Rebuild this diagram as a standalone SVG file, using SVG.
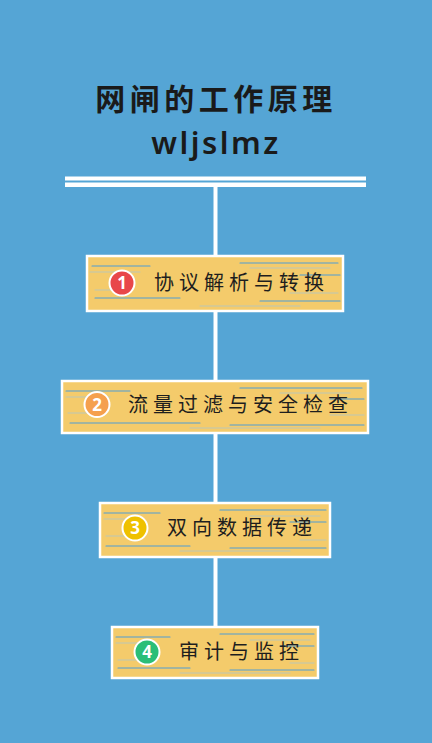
<svg xmlns="http://www.w3.org/2000/svg" width="432" height="743" viewBox="0 0 432 743">
<style>
.box{fill:#F4CB6B;stroke:#FFFFFF;stroke-width:2.5}
.st{stroke:#4E9DD6;stroke-width:1.1;fill:none;stroke-linecap:round}
.st2{stroke:#9CC6E2;stroke-width:0.8;fill:none;stroke-linecap:round;opacity:0.8}
.lbl{font-family:"Noto Sans CJK SC","Noto Sans",sans-serif;font-size:20px;fill:#1E1E1E;letter-spacing:5px}
.num{font-family:"Noto Sans","Liberation Sans",sans-serif;font-size:17px;font-weight:700;fill:#FFFFFF;text-anchor:middle}
.circ{stroke:#FFFFFF;stroke-width:2}
</style>
<rect width="432" height="743" fill="#55A5D5"/>
<g id="title">
<text x="216" y="110" text-anchor="middle" font-family="'Noto Sans CJK SC',sans-serif" font-size="30" font-weight="700" fill="#1A1A1A" letter-spacing="4.5">网闸的工作原理</text>
<text x="216" y="154" text-anchor="middle" font-family="'Noto Sans','DejaVu Sans',sans-serif" font-size="31" font-weight="600" fill="#1A1A1A" letter-spacing="2.5">wljslmz</text>
</g>
<g id="connectors">
<rect x="65" y="176.5" width="301" height="4" fill="#FFFFFF"/>
<rect x="65" y="182.5" width="301" height="4.5" fill="#FFFFFF"/>
<line x1="215.5" y1="187" x2="215.5" y2="627" stroke="#FFFFFF" stroke-width="4"/>
</g>
<g id="node1">
<rect class="box" x="87" y="256" width="256" height="55"/>
<path class="st" d="M92 266 H150 M240 263 H338 M95 298 H180 M260 301 H340 M300 275 H340"/>
<path class="st2" d="M90 272 H140 M95 290 H130 M200 306 H300 M250 268 H330 M290 293 H338"/>
<circle class="circ" cx="122" cy="283" r="12.5" fill="#E8474A"/>
<text class="num" x="122" y="289">1</text>
<text class="lbl" x="154" y="290">协议解析与转换</text>
</g>
<g id="node2">
<rect class="box" x="62" y="381" width="306" height="52"/>
<path class="st" d="M66 391 H130 M240 388 H362 M70 423 H200 M230 425 H364 M330 399 H364"/>
<path class="st2" d="M66 397 H110 M68 413 H100 M190 428 H320 M280 393 H350 M330 415 H364"/>
<circle class="circ" cx="97" cy="404.5" r="12.5" fill="#F5A04D"/>
<text class="num" x="97" y="410.5">2</text>
<text class="lbl" x="128" y="412">流量过滤与安全检查</text>
</g>
<g id="node3">
<rect class="box" x="100" y="503" width="230" height="54"/>
<path class="st" d="M104 513 H160 M220 510 H326 M106 546 H190 M230 548 H326 M290 522 H326"/>
<path class="st2" d="M104 519 H140 M106 536 H128 M180 551 H290 M250 516 H320 M300 540 H326"/>
<circle class="circ" cx="135" cy="528" r="12.5" fill="#EFC100"/>
<text class="num" x="135" y="534">3</text>
<text class="lbl" x="167" y="535">双向数据传递</text>
</g>
<g id="node4">
<rect class="box" x="112" y="627" width="206" height="51"/>
<path class="st" d="M116 637 H170 M220 634 H314 M118 668 H190 M230 670 H314 M280 646 H314"/>
<path class="st2" d="M116 643 H150 M118 660 H138 M180 673 H290 M250 640 H310 M290 663 H314"/>
<circle class="circ" cx="147" cy="652" r="12.5" fill="#2BBE78"/>
<text class="num" x="147" y="658">4</text>
<text class="lbl" x="179" y="659">审计与监控</text>
</g>
</svg>
